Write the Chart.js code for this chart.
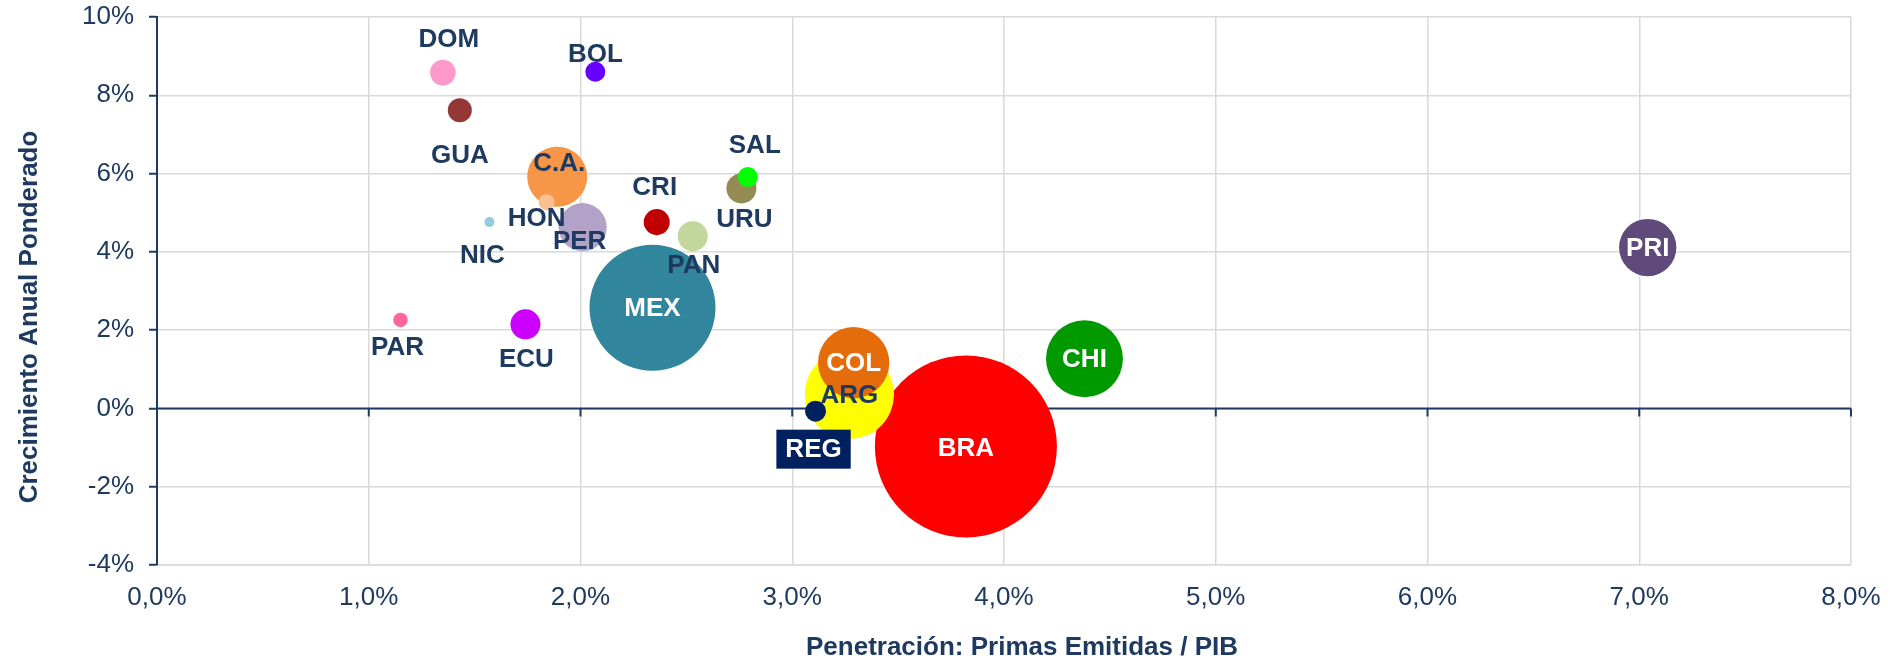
<!DOCTYPE html>
<html lang="es">
<head>
<meta charset="utf-8">
<title>Penetración vs Crecimiento</title>
<script src="https://cdn.jsdelivr.net/npm/chart.js@4.4.1/dist/chart.umd.min.js"></script>
<style>
  html, body { margin: 0; padding: 0; background: #fff; }
</style>
</head>
<body>
<canvas id="chart" width="1891" height="662"></canvas>
<script>
// datos
const paises = ['BRA', 'MEX', 'ARG', 'COL', 'CHI', 'PRI', 'C.A.', 'PER', 'HON', 'NIC', 'GUA', 'DOM', 'BOL', 'CRI', 'PAN', 'URU', 'SAL', 'PAR', 'ECU', 'REG'];
const penetracion = [3.82, 2.34, 3.27, 3.29, 4.38, 7.04, 1.89, 2.01, 1.84, 1.57, 1.43, 1.35, 2.07, 2.36, 2.53, 2.76, 2.79, 1.15, 1.74, 3.11];
const crecimiento = [-0.97, 2.57, 0.36, 1.17, 1.27, 4.11, 5.92, 4.63, 5.27, 4.76, 7.62, 8.58, 8.6, 4.76, 4.4, 5.62, 5.91, 2.26, 2.15, -0.07];
const volumen = [82.8, 39.7, 19.9, 12.7, 14.8, 8.2, 9.0, 5.8, 0.64, 0.25, 1.44, 1.64, 1.0, 1.7, 2.25, 2.25, 1.0, 0.53, 2.25, 1.1];
const ticksX = [0, 1, 2, 3, 4, 5, 6, 7, 8];
const ticksY = [-4, -2, 0, 2, 4, 6, 8, 10];

const colores = ['#FF0000', '#31859C', '#FFFF00', '#E46C0A', '#009900', '#604A7B', '#F79646', '#B3A2C7', '#FAC090', '#92CDDC',
  '#953735', '#FF99CC', '#6600FF', '#C00000', '#C3D69B', '#948A54', '#00FF00', '#FF6699', '#CC00FF', '#002060'];

const NAVY = '#1F3A60';
const GRIS = '#D9D9D9';
const FUENTE = '"Liberation Sans", Arial, sans-serif';

// desplazamiento de cada etiqueta respecto al centro de su burbuja
const etiquetas = {
  'BRA': { dx: 0, dy: 1, color: '#fff' },
  'MEX': { dx: 0, dy: 0, color: '#fff' },
  'ARG': { dx: 0, dy: 0 },
  'COL': { dx: 0, dy: 0, color: '#fff' },
  'CHI': { dx: 0, dy: 0, color: '#fff' },
  'PRI': { dx: 0, dy: 0, color: '#fff' },
  'C.A.': { dx: 2, dy: -14 },
  'PER': { dx: -3, dy: 14 },
  'HON': { dx: -10, dy: 16 },
  'NIC': { dx: -7, dy: 33 },
  'GUA': { dx: 0, dy: 45 },
  'DOM': { dx: 6, dy: -34 },
  'BOL': { dx: 0, dy: -18 },
  'CRI': { dx: -2, dy: -35 },
  'PAN': { dx: 1, dy: 29 },
  'URU': { dx: 3, dy: 30 },
  'SAL': { dx: 7, dy: -32 },
  'PAR': { dx: -3, dy: 27 },
  'ECU': { dx: 1, dy: 35 },
  'REG': { dx: -2, dy: 38, color: '#fff', box: '#002060' },
};

const radio = (v) => Math.sqrt(v) * 10;

const ejeCero = {
  id: 'ejeCero',
  beforeDatasetsDraw(chart) {
    const { ctx, chartArea, scales: { x, y } } = chart;
    const y0 = y.getPixelForValue(0);
    ctx.save();
    ctx.strokeStyle = NAVY;
    ctx.lineWidth = 2;
    ctx.beginPath();
    ctx.moveTo(chartArea.left, y0);
    ctx.lineTo(chartArea.right, y0);
    ticksX.forEach((t) => {
      if (t === 0) return;
      const px = x.getPixelForValue(t);
      ctx.moveTo(px, y0);
      ctx.lineTo(px, y0 + 8);
    });
    ctx.stroke();
    ctx.restore();
  },
};

const rotulos = {
  id: 'rotulos',
  afterDatasetsDraw(chart) {
    const { ctx } = chart;
    const meta = chart.getDatasetMeta(0);
    ctx.save();
    ctx.font = 'bold 26px ' + FUENTE;
    ctx.textAlign = 'center';
    ctx.textBaseline = 'middle';
    meta.data.forEach((el, i) => {
      const e = etiquetas[paises[i]];
      const tx = el.x + e.dx;
      const ty = el.y + e.dy;
      if (e.box) {
        const w = ctx.measureText(paises[i]).width + 18;
        ctx.fillStyle = e.box;
        ctx.fillRect(tx - w / 2, ty - 19.5, w, 39);
      }
      ctx.fillStyle = e.color || NAVY;
      ctx.fillText(paises[i], tx, ty + 1);
    });
    ctx.restore();
  },
};

const titulos = {
  id: 'titulos',
  afterDraw(chart) {
    const { ctx, chartArea } = chart;
    ctx.save();
    ctx.font = 'bold 26px ' + FUENTE;
    ctx.fillStyle = NAVY;
    ctx.textAlign = 'center';
    ctx.textBaseline = 'middle';
    ctx.fillText('Penetración: Primas Emitidas / PIB', (chartArea.left + chartArea.right) / 2 + 18, 648);
    ctx.translate(30, (chartArea.top + chartArea.bottom) / 2 + 26);
    ctx.rotate(-Math.PI / 2);
    ctx.fillText('Crecimiento Anual Ponderado', 0, 0);
    ctx.restore();
  },
};

new Chart(document.getElementById('chart'), {
  type: 'bubble',
  data: {
    datasets: [
      {
        label: 'Países',
        data: paises.map((p, i) => ({ x: penetracion[i], y: crecimiento[i], r: radio(volumen[i]) })),
        backgroundColor: colores,
        borderWidth: 0,
        hoverBorderWidth: 0,
      },
    ],
  },
  options: {
    responsive: false,
    animation: false,
    devicePixelRatio: 1,
    events: [],
    clip: false,
    layout: {
      autoPadding: false,
      padding: { top: 17, right: 40, left: 0, bottom: 0 },
    },
    scales: {
      x: {
        type: 'linear',
        min: 0,
        max: 8,
        afterBuildTicks: (scale) => {
          scale.ticks = ticksX.map((v) => ({ value: v }));
        },
        afterFit: (scale) => {
          scale.height = 97;
          scale.paddingLeft = 0;
          scale.paddingRight = 0;
        },
        grid: { color: GRIS, lineWidth: 1.5, drawTicks: false },
        border: { color: GRIS, width: 1.5 },
        ticks: {
          callback: (v) => v.toFixed(1).replace('.', ',') + '%',
          color: NAVY,
          padding: 17,
          maxRotation: 0,
          font: { size: 26, family: FUENTE },
        },
      },
      y: {
        type: 'linear',
        min: -4,
        max: 10,
        afterBuildTicks: (scale) => {
          scale.ticks = ticksY.map((v) => ({ value: v }));
        },
        afterFit: (scale) => {
          scale.width = 157;
          scale.paddingTop = 0;
          scale.paddingBottom = 0;
        },
        grid: { color: GRIS, lineWidth: 1.5, tickColor: NAVY, tickLength: 8, tickWidth: 2 },
        border: { color: NAVY, width: 2 },
        ticks: {
          callback: (v) => v + '%',
          color: NAVY,
          padding: 15,
          font: { size: 26, family: FUENTE },
        },
      },
    },
    plugins: {
      legend: { display: false },
      tooltip: { enabled: false },
    },
  },
  plugins: [ejeCero, rotulos, titulos],
});
</script>
</body>
</html>
